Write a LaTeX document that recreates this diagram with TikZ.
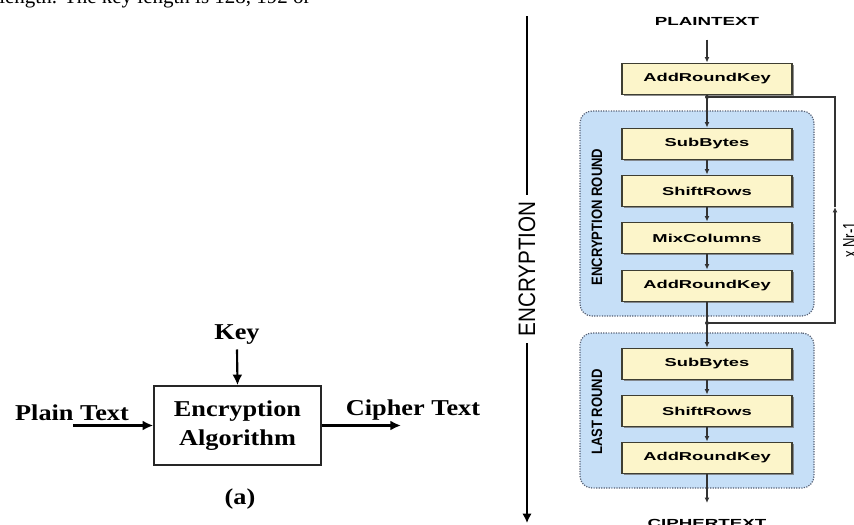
\documentclass[tikz,border=0pt]{standalone}
\usepackage{fontspec}
\setmainfont{Liberation Serif}
\setsansfont{Liberation Sans}
\usetikzlibrary{arrows.meta,shadows}
\definecolor{stagefill}{RGB}{252,245,202}
\definecolor{stageedge}{RGB}{62,62,50}
\definecolor{roundfill}{RGB}{198,223,247}
\definecolor{roundedge}{RGB}{85,95,115}
\newcommand\serifwide[1]{\scalebox{1.16}[1]{#1}}
\newcommand\sanswide[1]{\scalebox{1.6}[1]{#1}}

\begin{document}
\begin{tikzpicture}[x=0.75pt,y=-0.75pt,
  seriflbl/.style={font=\fontsize{17}{20}\selectfont\bfseries, inner sep=0pt, anchor=base},
  algbox/.style={draw=black!85, line width=1.4pt, minimum width=125pt, minimum height=59pt,
    align=center, font=\fontsize{17}{21.75}\selectfont\bfseries, inner sep=0pt},
  bigarrow/.style={line width=1.6pt, -{Latex[length=8pt,width=7.5pt]}},
  stage/.style={draw=stageedge, line width=1.2pt, fill=stagefill, minimum width=127.5pt,
    minimum height=23.5pt, inner sep=0pt, font=\sffamily\bfseries\fontsize{8.6}{10}\selectfont,
    drop shadow={shadow xshift=1.2pt, shadow yshift=-1.2pt, fill=black!55, opacity=0.8}},
  stagebg/.style={draw=roundedge, fill=roundfill, densely dotted, line width=0.9pt,
    rounded corners=9pt, minimum width=175.5pt, inner sep=0pt},
  flow/.style={line width=0.8pt, draw=black!80, -{Latex[length=4pt,width=3.6pt]}},
  plainflow/.style={line width=0.8pt, draw=black!80},
  caps/.style={font=\sffamily\bfseries\fontsize{8.8}{10}\selectfont, inner sep=0pt, anchor=base},
  roundlbl/.style={font=\sffamily\bfseries\fontsize{9.8}{11}\selectfont, rotate=90, inner sep=0pt},
]
\useasboundingbox (0,0) rectangle (854,525);
\clip (0,0) rectangle (854,525);

% running text above the figure
\node[font=\fontsize{15.75}{18}\selectfont, anchor=base west, inner sep=0pt] (toptext) at (-1,3)
  {length. The key length is 128, 192 or};

% ---------- (a) block view ----------
\node[seriflbl] (key) at (237,339) {\serifwide{Key}};
\node[algbox] (alg) at (237.5,425.5) {\serifwide{Encryption}\\\serifwide{Algorithm}};
\node[seriflbl] (pt) at (72,420) {\serifwide{Plain Text}};
\node[seriflbl] (ct) at (413,415) {\serifwide{Cipher Text}};
\node[seriflbl] (capa) at (240,504) {\serifwide{(a)}};
\coordinate (ptstart) at (73,425.5);
\coordinate (ctend) at (401,425.5);
\draw[bigarrow] ([yshift=-4pt]key.south) -- (alg.north);
\draw[bigarrow] (ptstart) -- (alg.west);
\draw[bigarrow] (alg.east) -- (ctend);

% ---------- AES encryption flow ----------
\node[font=\sffamily\fontsize{15.5}{18}\selectfont, rotate=90, inner sep=5pt] (enc) at (527,269)
  {\scalebox{1}[1.15]{ENCRYPTION}};
\coordinate (enctop) at (527,16);
\coordinate (encbot) at (527,523);
\draw[line width=1.2pt] (enctop) -- (enc.east);
\draw[line width=1.2pt, -{Latex[length=7pt,width=7pt]}] (enc.west) -- (encbot);

% round backgrounds
\node[stagebg, minimum height=153.75pt] (r1) at (697,213.5) {};
\node[stagebg, minimum height=116.25pt] (r2) at (697,410.5) {};
\node[roundlbl] (r1lbl) at (597,217) {\scalebox{1}[1.15]{ENCRYPTION ROUND}};
\node[roundlbl] (r2lbl) at (597,412) {\scalebox{1}[1.15]{LAST ROUND}};

\node[caps] (plain) at (707,25) {\sanswide{PLAINTEXT}};
\node[caps] (cipher) at (707,527) {\sanswide{CIPHERTEXT}};

% loop junctions
\coordinate (j1) at (707,97);
\coordinate (j2) at (707,323);
\coordinate (ur) at (835,97);
\coordinate (lr) at (835,323);
\coordinate (mr) at (835,207);
\coordinate (cend) at (707,503);

% stages
\node[stage] (ark0) at (707,79) {\sanswide{AddRoundKey}};
\node[stage] (sb1) at (707,144) {\sanswide{SubBytes}};
\node[stage] (sr1) at (707,191) {\sanswide{ShiftRows}};
\node[stage] (mc1) at (707,238) {\sanswide{MixColumns}};
\node[stage] (ark1) at (707,286) {\sanswide{AddRoundKey}};
\node[stage] (sb2) at (707,364) {\sanswide{SubBytes}};
\node[stage] (sr2) at (707,411) {\sanswide{ShiftRows}};
\node[stage] (ark2) at (707,458) {\sanswide{AddRoundKey}};

% data path
\draw[flow] ([yshift=-5pt]plain.north |- 0,33) -- (ark0.north);
\draw[flow] (ark0.south) -- (sb1.north);
\draw[flow] (sb1.south) -- (sr1.north);
\draw[flow] (sr1.south) -- (mc1.north);
\draw[flow] (mc1.south) -- (ark1.north);
\draw[flow] (ark1.south) -- (sb2.north);
\draw[flow] (sb2.south) -- (sr2.north);
\draw[flow] (sr2.south) -- (ark2.north);
\draw[flow] (ark2.south) -- (cend);

% repeat loop, Nr-1 times
\draw[flow] (j2) -- (lr) -- (mr);
\draw[plainflow] (mr) -- (ur) -- (j1);
\fill[black!80] (j1) circle (2);
\fill[black!80] (j2) circle (2);
\node[font=\sffamily\fontsize{9.8}{11}\selectfont, rotate=90, inner sep=0pt] (nr) at (850,240)
  {\scalebox{1}[1.5]{x Nr-1}};
\end{tikzpicture}
\end{document}
